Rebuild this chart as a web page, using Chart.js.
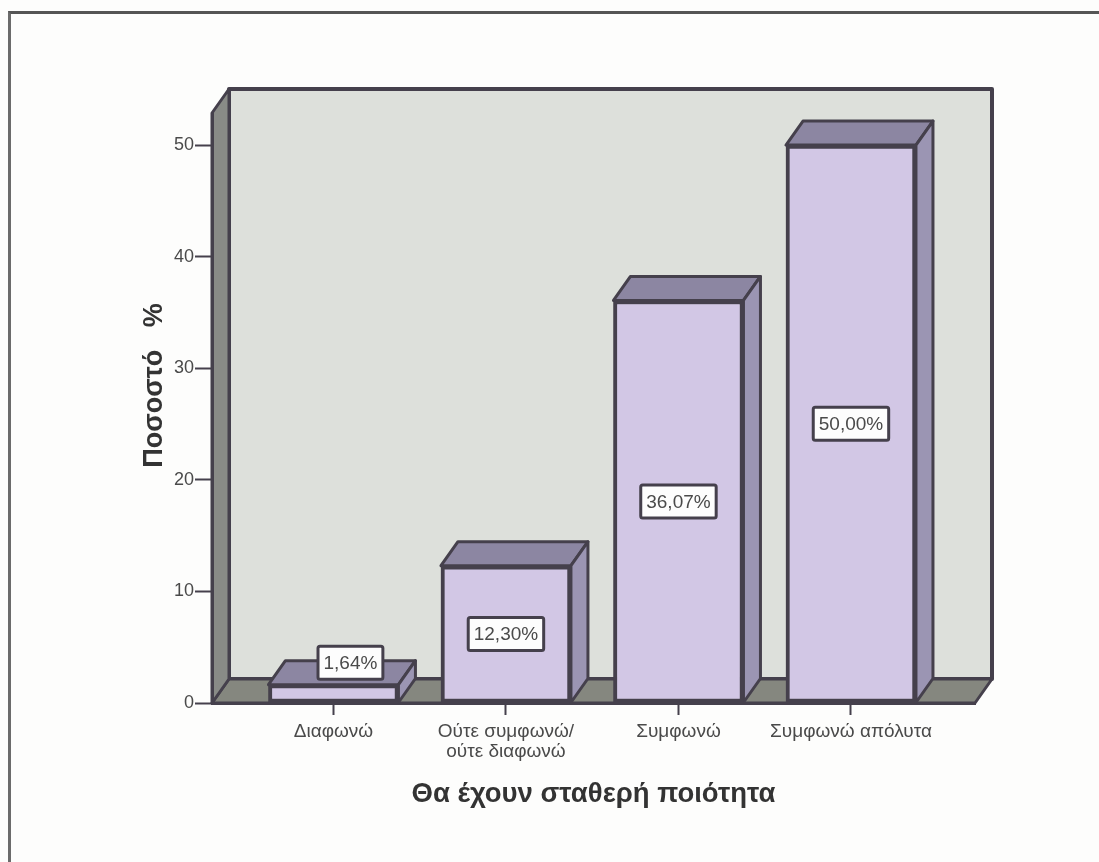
<!DOCTYPE html>
<html>
<head>
<meta charset="utf-8">
<title>Θα έχουν σταθερή ποιότητα</title>
<script src="https://cdn.jsdelivr.net/npm/chart.js@4/dist/chart.umd.min.js"></script>
<style>
    html, body { margin: 0; padding: 0; background: #fdfdfc; overflow: hidden; }
    #marco { position: absolute; left: 8px; top: 11px; right: 0; bottom: 0; border-left: 3px solid #6b6b6b; border-top: 3px solid #555; }
    #grafica { position: absolute; left: 0; top: 0; filter: blur(0.7px); }
</style>
</head>
<body>
<div id="marco"></div>
<canvas id="grafica" width="1099" height="862"></canvas>
<script>
const categorias = ["Διαφωνώ", ["Ούτε συμφωνώ/", "ούτε διαφωνώ"], "Συμφωνώ", "Συμφωνώ απόλυτα"];
const porcentajes = [1.64, 12.30, 36.07, 50.00];
const ticksY = [0, 10, 20, 30, 40, 50];
const tituloX = "Θα έχουν σταθερή ποιότητα";
const tituloY = "      Ποσοστό   %";

const FUENTE = "'Liberation Sans', Arial, sans-serif";
const OSCURO = "#45404c";
// profundidad del falso 3D
const DX = 17, DY = 24;

function poligono(ctx, puntos, relleno, grosor) {
    ctx.beginPath();
    ctx.moveTo(puntos[0][0], puntos[0][1]);
    for (var i = 1; i < puntos.length; i++) {
        ctx.lineTo(puntos[i][0], puntos[i][1]);
    }
    ctx.closePath();
    ctx.fillStyle = relleno;
    ctx.fill();
    ctx.lineWidth = grosor;
    ctx.lineJoin = "round";
    ctx.strokeStyle = OSCURO;
    ctx.stroke();
}

// pared del fondo, suelo y pared izquierda
const pluginParedes = {
    id: "paredes",
    beforeDraw: function (chart) {
        const ctx = chart.ctx;
        const izq = chart.scales.x.left, der = chart.scales.x.right;
        const arriba = chart.scales.y.top, abajo = chart.scales.y.bottom;
        ctx.save();
        poligono(ctx, [[izq + DX, arriba - DY], [der + DX, arriba - DY], [der + DX, abajo - DY], [izq + DX, abajo - DY]], "#dde0db", 4);
        poligono(ctx, [[izq, abajo], [der, abajo], [der + DX, abajo - DY], [izq + DX, abajo - DY]], "#85877f", 3);
        poligono(ctx, [[izq, arriba], [izq + DX, arriba - DY], [izq + DX, abajo - DY], [izq, abajo]], "#898b87", 3);
        ctx.restore();
    }
};

// cara superior y lateral de cada barra
const pluginCaras = {
    id: "caras",
    beforeDatasetsDraw: function (chart) {
        const ctx = chart.ctx;
        ctx.save();
        chart.getDatasetMeta(0).data.forEach(function (barra) {
            const izq = barra.x - barra.width / 2, der = barra.x + barra.width / 2;
            poligono(ctx, [[izq, barra.y], [der, barra.y], [der + DX, barra.y - DY], [izq + DX, barra.y - DY]], "#8c86a2", 3);
            poligono(ctx, [[der, barra.y], [der + DX, barra.y - DY], [der + DX, barra.base - DY], [der, barra.base]], "#9b95b3", 3);
        });
        ctx.restore();
    }
};

// etiquetas con el porcentaje en caja blanca
const pluginEtiquetas = {
    id: "etiquetas",
    afterDatasetsDraw: function (chart) {
        const ctx = chart.ctx;
        ctx.save();
        ctx.font = "19px " + FUENTE;
        ctx.textAlign = "center";
        ctx.textBaseline = "middle";
        chart.getDatasetMeta(0).data.forEach(function (barra, i) {
            const texto = porcentajes[i].toFixed(2).replace(".", ",") + "%";
            const ancho = ctx.measureText(texto).width + 11, alto = 33;
            var cx = barra.x, cy = (barra.y + barra.base) / 2;
            // si no cabe en la barra se sube encima de la cara superior
            if (barra.base - barra.y < alto) {
                cx = barra.x + DX;
                cy = barra.y - DY + 2;
            }
            ctx.beginPath();
            ctx.roundRect(cx - ancho / 2, cy - alto / 2, ancho, alto, 2);
            ctx.fillStyle = "#fdfdfd";
            ctx.fill();
            ctx.lineWidth = 3;
            ctx.strokeStyle = OSCURO;
            ctx.stroke();
            ctx.fillStyle = "#4a4a4a";
            ctx.fillText(texto, cx, cy + 1);
        });
        ctx.restore();
    }
};

var datosBarras = {
    datasets: [{
        data: porcentajes.map(function (v, i) { return {x: i, y: v}; }),
        backgroundColor: "#d2c7e5",
        borderColor: OSCURO,
        borderWidth: 4,
        borderSkipped: false,
        barThickness: 130
    }]
};

var opcionesBarras = {
    responsive: false,
    animation: false,
    layout: {padding: {left: 138, top: 113, right: 124, bottom: 51}},
    plugins: {legend: {display: false}, tooltip: {enabled: false}},
    scales: {
        x: {
            type: "linear",
            offset: false,
            min: -0.704,
            max: 3.719,
            afterFit: function (escala) { escala.height = 108; },
            afterBuildTicks: function (escala) {
                escala.ticks = categorias.map(function (c, i) { return {value: i}; });
            },
            grid: {offset: false, drawOnChartArea: false, color: OSCURO, tickLength: 12, tickWidth: 2},
            border: {color: OSCURO, width: 3},
            ticks: {
                callback: function (v) { return categorias[v]; },
                font: {family: FUENTE, size: 19, lineHeight: 1.05},
                color: "#4a4a4a",
                padding: 7,
                maxRotation: 0,
                autoSkip: false
            },
            title: {
                display: true,
                text: tituloX,
                font: {family: FUENTE, size: 27.5, weight: "bold"},
                color: "#333",
                padding: 0
            }
        },
        y: {
            type: "linear",
            min: 0,
            max: 52.87,
            afterFit: function (escala) { escala.width = 74; },
            afterBuildTicks: function (escala) {
                escala.ticks = ticksY.map(function (v) { return {value: v}; });
            },
            grid: {drawOnChartArea: false, color: OSCURO, tickLength: 17, tickWidth: 2},
            border: {color: OSCURO, width: 3},
            ticks: {
                font: {family: FUENTE, size: 18},
                color: "#4a4a4a",
                padding: 1,
                includeBounds: false
            },
            title: {
                display: true,
                text: tituloY,
                font: {family: FUENTE, size: 27, weight: "bold"},
                color: "#333",
                padding: 0
            }
        }
    }
};

var grafica = new Chart("grafica", {
    type: "bar",
    data: datosBarras,
    options: opcionesBarras,
    plugins: [pluginParedes, pluginCaras, pluginEtiquetas]
});
</script>
</body>
</html>
